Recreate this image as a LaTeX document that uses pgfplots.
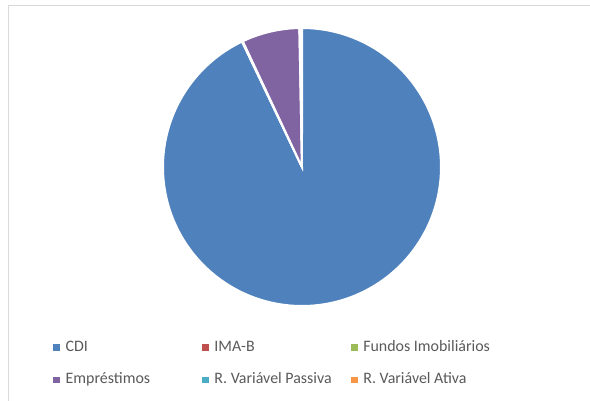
\documentclass[border=0pt]{standalone}
\usepackage{pgfplots}
\usepackage{pgfplotstable}
\pgfplotsset{compat=1.18}
\usepackage{fontspec}
\setmainfont{Carlito}
\definecolor{cCDI}{HTML}{4F81BD}
\definecolor{cIMA}{HTML}{C0504D}
\definecolor{cFII}{HTML}{9BBB59}
\definecolor{cEMP}{HTML}{8064A2}
\definecolor{cRVP}{HTML}{4BACC6}
\definecolor{cRVA}{HTML}{F79646}
\definecolor{frame}{HTML}{D9D9D9}
\definecolor{legtext}{HTML}{595959}

% shares in percent, clockwise from 12 o'clock
\pgfplotstableread{
value
92.9
0.05
0.05
6.7
0.15
0.15
}\piedata

\newcommand\leg[1]{\makebox[136bp][l]{\hspace{2.5bp}#1}}

\begin{document}
\begin{tikzpicture}
\pgfplotstablegetelem{0}{value}\of\piedata \let\vA\pgfplotsretval
\pgfplotstablegetelem{1}{value}\of\piedata \let\vB\pgfplotsretval
\pgfplotstablegetelem{2}{value}\of\piedata \let\vC\pgfplotsretval
\pgfplotstablegetelem{3}{value}\of\piedata \let\vD\pgfplotsretval
\pgfplotstablegetelem{4}{value}\of\piedata \let\vE\pgfplotsretval
\pgfplotstablegetelem{5}{value}\of\piedata \let\vF\pgfplotsretval
\pgfmathsetmacro\aA{90}
\pgfmathsetmacro\aB{\aA-3.6*\vA}
\pgfmathsetmacro\aC{\aB-3.6*\vB}
\pgfmathsetmacro\aD{\aC-3.6*\vC}
\pgfmathsetmacro\aE{\aD-3.6*\vD}
\pgfmathsetmacro\aF{\aE-3.6*\vE}
\pgfmathsetmacro\aG{\aF-3.6*\vF}
\useasboundingbox (-302bp,-234bp) rectangle (288bp,167bp);
\draw[frame, line width=1bp] (-293bp,-240bp) -- (-293bp,161bp) -- (300bp,161bp);
\begin{axis}[
  anchor=origin, at={(0,0)},
  x=139bp, y=139bp,
  xmin=-1, xmax=1, ymin=-1, ymax=1,
  hide axis, clip=false,
  legend columns=3,
  legend style={draw=none, fill=none, at={(axis cs:-1.79,-1.23)}, anchor=north west,
    font=\fontsize{16}{19}\selectfont, text=legtext,
    inner sep=0pt, column sep=0pt, row sep=14bp,
    nodes={inner ysep=2bp, inner xsep=3bp, text height=11bp, text depth=3.5bp}},
  legend cell align=left,
  legend image code/.code={\fill[#1, draw=none] (0bp,-3.4bp) rectangle (6.8bp,3.4bp);},
]
\addplot[fill=cCDI, draw=white, line width=2bp, domain=\aB:\aA, samples=200, variable=\t] ({cos(\t)},{sin(\t)}) -- (axis cs:0,0) -- cycle;
\addlegendentry{\leg{CDI}}
\addplot[fill=cIMA, draw=white, line width=2bp, domain=\aC:\aB, samples=3, variable=\t] ({cos(\t)},{sin(\t)}) -- (axis cs:0,0) -- cycle;
\addlegendentry{\leg{IMA-B}}
\addplot[fill=cFII, draw=white, line width=2bp, domain=\aD:\aC, samples=3, variable=\t] ({cos(\t)},{sin(\t)}) -- (axis cs:0,0) -- cycle;
\addlegendentry{\leg{Fundos Imobiliários}}
\addplot[fill=cEMP, draw=white, line width=2bp, domain=\aE:\aD, samples=40, variable=\t] ({cos(\t)},{sin(\t)}) -- (axis cs:0,0) -- cycle;
\addlegendentry{\leg{Empréstimos}}
\addplot[fill=cRVP, draw=white, line width=2bp, domain=\aF:\aE, samples=3, variable=\t] ({cos(\t)},{sin(\t)}) -- (axis cs:0,0) -- cycle;
\addlegendentry{\leg{R. Variável Passiva}}
\addplot[fill=cRVA, draw=white, line width=2bp, domain=\aG:\aF, samples=3, variable=\t] ({cos(\t)},{sin(\t)}) -- (axis cs:0,0) -- cycle;
\addlegendentry{\leg{R. Variável Ativa}}
\end{axis}
\end{tikzpicture}
\end{document}
